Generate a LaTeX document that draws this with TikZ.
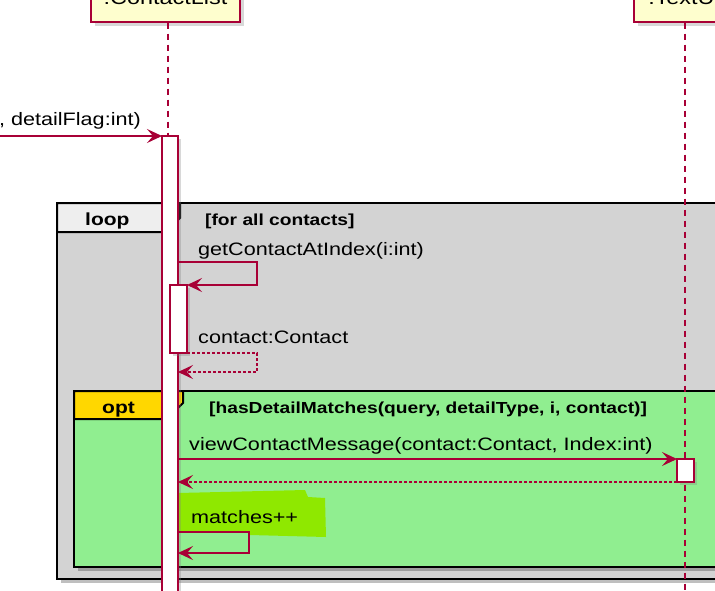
\documentclass[tikz,border=0pt]{standalone}
\usepackage{fontspec}
\setmainfont{Liberation Sans}[FakeStretch=1.2]
\usetikzlibrary{arrows.meta,shadows}
\definecolor{umlred}{HTML}{A80036}
\definecolor{umlyellow}{HTML}{FEFECE}
\definecolor{loopgray}{HTML}{D3D3D3}
\definecolor{tabgray}{HTML}{EEEEEE}
\definecolor{optgreen}{HTML}{90EE90}
\definecolor{optgold}{HTML}{FFD700}
\definecolor{marker}{HTML}{8FE800}
\tikzset{
  msg/.style={draw=umlred,line width=1.1pt,-{Stealth[length=15pt,width=14pt,inset=6pt]}},
  ret/.style={msg,dash pattern=on 3pt off 2pt},
  lifeline/.style={draw=umlred,line width=1.1pt,dash pattern=on 6pt off 5pt},
  actbar/.style={draw=umlred,fill=white,line width=1.1pt,inner sep=0pt,outer sep=0pt,
    anchor=north west,drop shadow={shadow xshift=3pt,shadow yshift=-3pt,opacity=0.3}},
  participant/.style={draw=umlred,fill=umlyellow,line width=1.4pt,minimum height=48pt,
    inner sep=0pt,font=\fontsize{19.5}{22}\selectfont,
    drop shadow={shadow xshift=4pt,shadow yshift=-4pt,opacity=0.3}},
  frame/.style={draw=black,line width=2pt},
  shade/.style={fill=black,opacity=0.25},
  msgtext/.style={anchor=base west,inner sep=0pt,font=\fontsize{18}{20}\selectfont},
  guard/.style={anchor=base west,inner sep=0pt,font=\fontsize{16}{18}\selectfont\bfseries},
  tablbl/.style={guard,font=\fontsize{17.5}{20}\selectfont\bfseries},
}
\begin{document}
\begin{tikzpicture}[x=1pt,y=-1pt]
\clip (0,0) rectangle (715,590);
\fill[white] (0,0) rectangle (715,590);

% loop frame
\fill[shade] (61,207) rectangle (725,583);
\draw[frame,fill=loopgray] (57,203) rectangle (725,579);
\draw[frame,fill=tabgray] (57,203) -- (180,203) -- (180,218) -- (165,232) -- (57,232) -- cycle;
\node[tablbl] (looplbl) at (85,225) {loop};
\node[guard] (loopcond) at (205,225) {[for all contacts]};

% opt frame
\fill[shade] (78,395) rectangle (725,571);
\draw[frame,fill=optgreen] (74,391) rectangle (725,567);
\draw[frame,fill=optgold] (74,391) -- (183,391) -- (183,403) -- (167,419) -- (74,419) -- cycle;
\node[tablbl] (optlbl) at (102,413) {opt};
\node[guard] (optcond) at (209,413) {[hasDetailMatches(query, detailType, i, contact)]};

% highlighter
\fill[marker] (178,493) -- (305,490) -- (308,497) -- (325,498) -- (326,537)
  -- (250,535) -- (249,532) -- (178,532) -- cycle;

% participants and lifelines
\node[participant,minimum width=149pt] (cl) at (165.5,-2) {:ContactList};
\node[participant,minimum width=100pt] (ui) at (684,-2) {:TextUi};
\coordinate (clend) at (168,590);
\coordinate (uiend) at (685,590);
\draw[lifeline] (cl.south -| clend) -- (clend);
\draw[lifeline] (ui.south -| uiend) -- (uiend);

% activations
\node[actbar,minimum width=16pt,minimum height=470pt] (act1) at (162,136) {};
\node[actbar,minimum width=17pt,minimum height=68pt] (act2) at (170,285) {};
\node[actbar,minimum width=17pt,minimum height=23pt] (act3) at (677,459) {};

% messages
\coordinate (caller) at (0,136);
\draw[msg] (caller) -- (act1.north west);
\node[msgtext,anchor=base east] (m0) at (141,125) {, detailFlag:int)};

\coordinate (s1) at (178,262);
\draw[msg] (s1) -| (257,285) -- (act2.north east);
\node[msgtext] (m1) at (198,255) {getContactAtIndex(i:int)};

\coordinate (r1) at (178,372);
\draw[ret] (act2.south east) -| (257,372) -- (r1);
\node[msgtext] (m2) at (198,343) {contact:Contact};

\draw[msg] (act1.east |- act3.north west) -- (act3.north west);
\node[msgtext] (m3) at (189,450) {viewContactMessage(contact:Contact, Index:int)};
\draw[ret] (act3.south west) -- (act1.east |- act3.south west);

\coordinate (s2) at (178,532);
\coordinate (s2e) at (178,553);
\draw[msg] (s2) -| (249,553) -- (s2e);
\node[msgtext] (m4) at (191,523) {matches++};
\end{tikzpicture}
\end{document}
